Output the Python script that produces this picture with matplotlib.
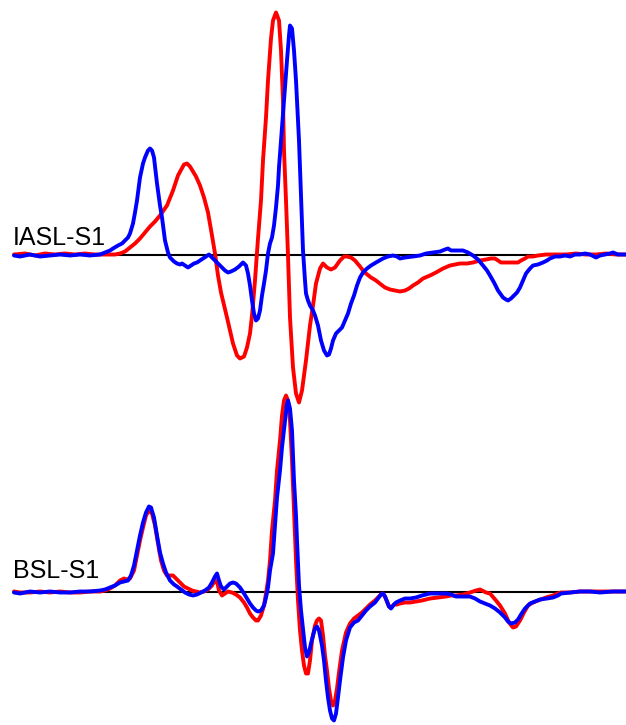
import matplotlib
matplotlib.use("Agg")
import matplotlib.pyplot as plt

# ---------------- data (time index, amplitude; positive = up) ----------------
labels = ["IASL-S1", "BSL-S1"]

t_top_red = [14,25,35,45,55,65,75,85,95,105,115,120,125,130,135,140,145,150,155,160,167,173,178,184,187,190,196,200,
             204,208,212,215,218,221,227,233,237,240,244,247,250,252,255,258,261,263,266,268,271,273,276,279,281,283,
             284,286,288,290,293,296,299,302,306,310,313,316,320,323,327,331,335,340,344,347,351,355,360,363,366,371,
             376,381,385,390,395,400,405,409,413,418,423,430,436,443,450,455,460,467,473,480,486,491,495,498,501,507,
             513,518,521,525,528,533,538,546,556,566,576,586,596,606,616,626]
a_top_red = [0,1,-1,1,0,1,0,1,0,0,0,1,3,7,11,16,22,28,33,39,49,64,79,90,91,88,78,69,
             57,42,19,1,-21,-38,-63,-89,-101,-104,-102,-93,-79,-61,-26,16,54,94,137,174,216,234,242,234,204,154,
             104,54,-1,-63,-113,-139,-148,-136,-106,-71,-51,-29,-14,-9,-13,-15,-13,-6,-2,-2,-3,-6,-12,-16,-19,-23,
             -26,-30,-33,-35,-36,-37,-36,-34,-31,-28,-24,-21,-18,-14,-11,-10,-9,-9,-8,-6,-5,-4,-4,-6,-8,-8,
             -8,-8,-6,-4,-2,-2,-1,0,0,0,1,0,0,1,0,0]

t_top_blue = [14,20,30,40,50,60,70,80,90,100,105,110,113,118,122,125,128,130,133,135,137,140,143,145,148,150,152,154,
              157,160,162,165,168,170,174,177,180,182,185,188,191,194,197,200,203,206,209,212,215,219,222,225,228,231,
              235,239,243,246,248,250,252,254,256,258,260,262,264,266,268,270,272,274,276,278,279,281,283,285,287,289,
              290,292,294,296,297,299,300,302,303,305,306,308,310,313,315,318,321,324,327,329,331,333,336,340,342,345,
              348,351,354,357,360,363,367,371,376,383,388,393,397,400,405,413,420,426,433,440,445,448,451,457,463,468,
              473,478,483,487,490,494,498,503,506,508,511,514,517,520,523,526,530,533,538,543,547,550,555,560,565,570,
              575,580,585,590,596,600,605,610,613,618,626]
a_top_blue = [-1,-2,0,-2,-1,0,-1,0,-1,0,2,4,6,9,11,14,17,21,31,42,54,77,91,97,104,106,104,97,
              71,49,37,14,2,-3,-7,-9,-10,-9,-11,-13,-11,-9,-8,-6,-4,-2,0,-3,-6,-10,-13,-16,-18,-17,
              -15,-12,-8,-11,-19,-31,-46,-59,-66,-64,-56,-41,-29,-16,1,11,17,29,47,69,87,114,142,169,194,219,
              229,226,204,174,154,114,87,34,4,-26,-39,-46,-51,-56,-61,-71,-86,-96,-101,-100,-94,-86,-79,-75,-73,-66,
              -59,-49,-41,-31,-23,-18,-14,-11,-8,-4,-2,-1,-2,-4,-3,-2,-1,1,2,3,5,6,4,4,4,2,
              -1,-5,-11,-16,-21,-28,-36,-43,-45,-46,-44,-41,-38,-33,-26,-19,-14,-11,-10,-8,-6,-4,-2,-2,-1,-2,
              0,0,1,0,-3,-1,0,1,2,0,0]

t_bot_red = [14,20,30,40,50,60,70,80,90,100,105,110,115,120,124,127,130,134,137,140,143,146,149,152,155,158,161,164,
             167,170,173,176,180,184,188,192,196,200,204,208,212,215,217,219,222,225,228,232,236,240,244,247,250,253,
             256,258,261,264,266,268,270,272,275,277,280,282,284,286,288,290,292,294,296,298,300,302,304,306,308,310,
             312,315,317,319,321,323,325,327,329,331,333,335,337,339,342,346,350,354,358,362,366,370,375,378,381,383,
             385,387,389,391,394,397,400,405,410,416,422,430,438,446,451,456,463,470,476,480,486,490,496,500,505,509,
             513,516,520,524,528,533,538,546,553,558,561,570,580,590,600,613,626]
a_bot_red = [0,-1,-1,0,-1,0,-1,-1,0,0,1,3,6,11,13,12,13,21,36,51,64,76,81,78,66,48,31,21,
             16,16,16,13,9,5,3,1,0,-1,0,2,6,11,10,1,-4,-2,0,-1,-3,-6,-11,-16,-22,-26,
             -29,-29,-24,-14,-2,11,31,61,91,121,151,176,191,196,191,171,131,81,31,-9,-39,-59,-74,-82,-82,-69,
             -49,-34,-29,-27,-29,-44,-64,-79,-97,-109,-114,-109,-97,-81,-59,-41,-32,-27,-24,-21,-17,-13,-9,-6,-3,-2,
             -5,-10,-15,-16,-13,-13,-12,-11,-11,-10,-9,-7,-6,-5,-4,-4,-3,-1,1,2,-1,-2,-9,-14,-22,-31,
             -36,-35,-29,-21,-14,-11,-9,-6,-4,-2,-1,-1,0,0,0,0,0]

t_bot_blue = [14,20,30,40,50,60,70,80,90,100,105,110,115,120,124,128,131,134,137,140,143,146,149,151,154,157,160,163,
              166,170,174,177,181,185,189,193,197,201,205,209,212,215,217,219,221,224,227,230,233,236,240,244,247,250,
              253,256,258,261,264,266,268,270,273,275,277,280,282,285,287,288,290,292,294,296,297,299,301,303,305,307,
              309,311,313,315,317,319,322,324,326,328,330,332,334,336,338,340,343,346,350,354,358,362,366,370,375,378,
              381,383,385,387,389,391,394,396,400,405,410,416,422,430,438,446,451,456,463,470,475,480,485,490,495,500,
              505,508,511,515,518,521,525,530,535,540,547,553,558,561,570,580,590,600,613,626]
a_bot_blue = [-1,-2,0,-1,0,-1,-1,0,0,1,2,4,6,9,10,11,16,26,41,56,69,79,85,84,74,56,39,28,
              19,11,7,5,2,-1,-3,-4,-3,-1,1,4,9,15,18,11,5,2,5,8,9,8,4,-2,-7,-12,
              -16,-19,-20,-19,-14,-6,4,21,38,66,94,121,144,171,188,191,183,161,111,76,51,6,-19,-37,-56,-65,
              -61,-52,-44,-37,-35,-39,-54,-69,-89,-106,-119,-127,-129,-122,-106,-89,-66,-49,-36,-31,-29,-24,-19,-15,-11,-7,
              -3,-2,-5,-10,-15,-17,-13,-11,-9,-7,-7,-6,-4,-2,-2,-2,-3,-5,-5,-5,-7,-10,-12,-14,-17,-21,
              -26,-30,-32,-31,-28,-23,-17,-12,-10,-8,-7,-6,-4,-2,-1,0,0,-1,0,0]

# ---------------- layout / style ----------------
W, H = 626, 725
TOP_BASE, BOT_BASE = 254.5, 591.5
X0, X1 = 14, 626
RED, BLUE = "#ff0000", "#0000ff"
LW = 2.8

fig = plt.figure(figsize=(W / 100, H / 100), dpi=100)
ax = fig.add_axes([0, 0, 1, 1])
ax.set_xlim(0, W)
ax.set_ylim(H, 0)
ax.axis("off")

panels = [
    (TOP_BASE, t_top_red, a_top_red, t_top_blue, a_top_blue, labels[0], 245),
    (BOT_BASE, t_bot_red, a_bot_red, t_bot_blue, a_bot_blue, labels[1], 578),
]
for base, tr, ar, tb, ab, lab, ty in panels:
    ax.plot([X0, X1], [base, base], color="black", lw=1.5, zorder=1, solid_capstyle="butt")
    ax.plot(tr, [base - v for v in ar], color=RED, lw=LW, zorder=2,
            solid_joinstyle="round", solid_capstyle="round")
    ax.plot(tb, [base - v for v in ab], color=BLUE, lw=LW, zorder=3,
            solid_joinstyle="round", solid_capstyle="round")
    ax.text(13, ty, lab, fontsize=18, family=["Liberation Sans", "DejaVu Sans"],
            ha="left", va="baseline", color="black", zorder=4)

fig.savefig("out.png", dpi=100, facecolor="white")
